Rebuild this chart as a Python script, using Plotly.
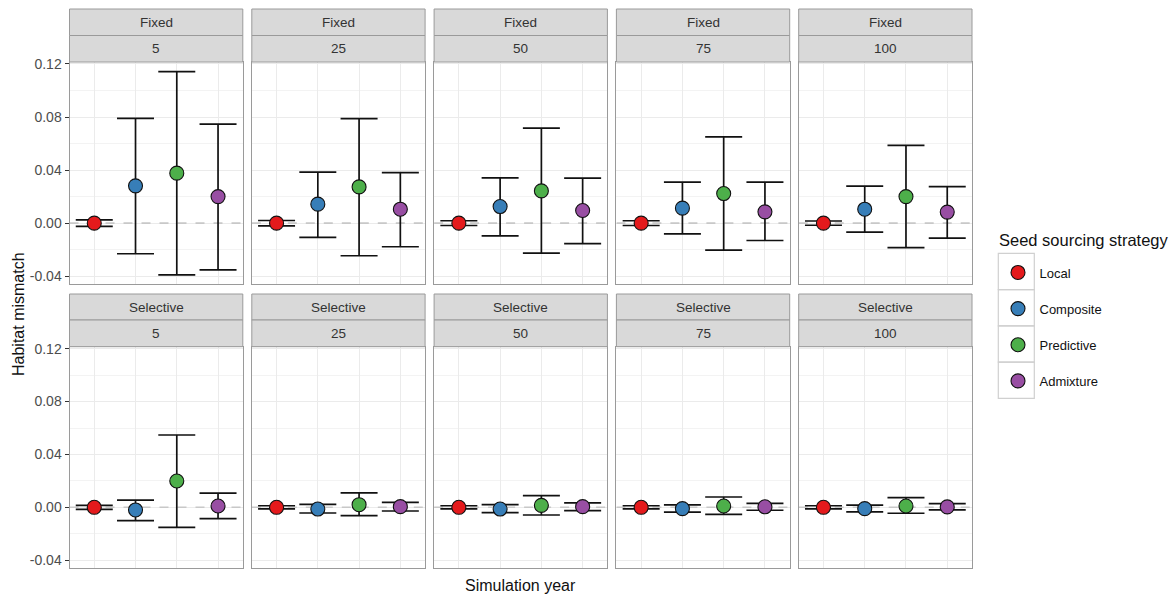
import plotly.graph_objects as go

W, H = 1176, 595

strategies = ["Local", "Composite", "Predictive", "Admixture"]
colors = ["#E41A1C", "#377EB8", "#4DAF4A", "#984EA3"]
years = ["5", "25", "50", "75", "100"]
schemes = ["Fixed", "Selective"]

# mean, upper, lower per year (rows: strategies in order above)
fixed_mean = {
    "5":   [0.0000, 0.0281, 0.0377, 0.0200],
    "25":  [0.0000, 0.0143, 0.0273, 0.0105],
    "50":  [0.0000, 0.0125, 0.0243, 0.0095],
    "75":  [0.0000, 0.0113, 0.0223, 0.0085],
    "100": [0.0000, 0.0105, 0.0200, 0.0083],
}
fixed_upper = {
    "5":   [0.0025, 0.0790, 0.1142, 0.0746],
    "25":  [0.0020, 0.0384, 0.0788, 0.0381],
    "50":  [0.0018, 0.0341, 0.0716, 0.0339],
    "75":  [0.0018, 0.0309, 0.0650, 0.0309],
    "100": [0.0016, 0.0279, 0.0587, 0.0276],
}
fixed_lower = {
    "5":   [-0.0025, -0.0231, -0.0390, -0.0352],
    "25":  [-0.0020, -0.0108, -0.0246, -0.0178],
    "50":  [-0.0018, -0.0096, -0.0226, -0.0154],
    "75":  [-0.0018, -0.0081, -0.0203, -0.0131],
    "100": [-0.0016, -0.0068, -0.0184, -0.0113],
}
selective_mean = {
    "5":   [0.0000, -0.0020, 0.0199, 0.0010],
    "25":  [0.0000, -0.0013, 0.0020, 0.0005],
    "50":  [0.0000, -0.0013, 0.0015, 0.0005],
    "75":  [0.0000, -0.0010, 0.0010, 0.0004],
    "100": [0.0000, -0.0010, 0.0010, 0.0003],
}
selective_upper = {
    "5":   [0.0015, 0.0055, 0.0547, 0.0108],
    "25":  [0.0012, 0.0023, 0.0110, 0.0038],
    "50":  [0.0012, 0.0020, 0.0088, 0.0033],
    "75":  [0.0012, 0.0018, 0.0078, 0.0030],
    "100": [0.0012, 0.0016, 0.0073, 0.0028],
}
selective_lower = {
    "5":   [-0.0015, -0.0101, -0.0151, -0.0086],
    "25":  [-0.0012, -0.0043, -0.0063, -0.0028],
    "50":  [-0.0012, -0.0040, -0.0058, -0.0025],
    "75":  [-0.0012, -0.0037, -0.0053, -0.0022],
    "100": [-0.0012, -0.0035, -0.0045, -0.0020],
}
data = {
    "Fixed": (fixed_mean, fixed_upper, fixed_lower),
    "Selective": (selective_mean, selective_upper, selective_lower),
}

y_ticks = [-0.04, 0.0, 0.04, 0.08, 0.12]
y_tick_text = ["-0.04", "0.00", "0.04", "0.08", "0.12"]
y_range = [-0.0459, 0.1215]
x_range = [0.4, 4.6]

# pixel layout helpers
col_x0 = 69.5
panel_w = 173.3
gap_x = 9.0
row_top = [62.0, 346.7]
row_bot = [284.0, 568.0]
strip1_top = [9.0, 294.0]
strip_mid = [35.5, 320.0]

def px(xp):
    return xp / W

def py(yp):
    return 1 - yp / H

FONT = "Liberation Sans, Arial, sans-serif"
fig = go.Figure()
shapes = []
annotations = []
BORDER = "#9a9a9a"
STRIP_FILL = "#d9d9d9"

for r, scheme in enumerate(schemes):
    means, ups, lows = data[scheme]
    for c, yr in enumerate(years):
        idx = r * 5 + c + 1
        xa = "x" if idx == 1 else f"x{idx}"
        ya = "y" if idx == 1 else f"y{idx}"
        xl = "xaxis" if idx == 1 else f"xaxis{idx}"
        yl = "yaxis" if idx == 1 else f"yaxis{idx}"
        x0 = col_x0 + c * (panel_w + gap_x)
        x1 = x0 + panel_w
        fig.layout[xl] = dict(
            domain=[px(x0), px(x1)], anchor=ya, range=x_range,
            tickvals=[1, 2, 3, 4], showticklabels=False, ticks="",
            showgrid=True, gridcolor="#ebebeb", gridwidth=1,
            zeroline=False, showline=True, mirror=True,
            linecolor=BORDER, linewidth=1, fixedrange=True, automargin=False,
        )
        fig.layout[yl] = dict(
            domain=[py(row_bot[r]), py(row_top[r])], anchor=xa, range=y_range,
            tickvals=y_ticks, ticktext=y_tick_text,
            showticklabels=(c == 0), ticks="outside" if c == 0 else "",
            ticklen=4, tickcolor="#333333", tickwidth=1,
            tickfont=dict(family=FONT, size=14, color="#4d4d4d"),
            showgrid=True, gridcolor="#ebebeb", gridwidth=1,
            minor=dict(tickvals=[-0.02, 0.02, 0.06, 0.10], showgrid=True,
                       gridcolor="#f3f3f3", gridwidth=0.6),
            zeroline=False, showline=True, mirror=True,
            linecolor=BORDER, linewidth=1, fixedrange=True, automargin=False,
        )
        # dashed reference line at zero (drawn first, beneath the points)
        fig.add_trace(go.Scatter(
            x=x_range, y=[0, 0], xaxis=xa, yaxis=ya, mode="lines",
            line=dict(color="#c8c8c8", width=1.6, dash="dash"),
            showlegend=False, hoverinfo="skip",
        ))
        # strips
        for (t0, t1, label) in [(strip1_top[r], strip_mid[r], scheme),
                                (strip_mid[r], row_top[r], yr)]:
            shapes.append(dict(type="rect", xref="paper", yref="paper",
                               x0=px(x0), x1=px(x1), y0=py(t1), y1=py(t0),
                               fillcolor=STRIP_FILL, line=dict(color=BORDER, width=1),
                               layer="above"))
            annotations.append(dict(text=label, xref="paper", yref="paper",
                                    x=px((x0 + x1) / 2), y=py((t0 + t1) / 2),
                                    showarrow=False, xanchor="center", yanchor="middle",
                                    font=dict(family=FONT, size=13.5, color="#333333")))
        for k, strat in enumerate(strategies):
            m = means[yr][k]
            fig.add_trace(go.Scatter(
                x=[k + 1], y=[m], xaxis=xa, yaxis=ya, mode="markers",
                name=strat, legendgroup=strat, showlegend=(idx == 1),
                marker=dict(size=14, color=colors[k], line=dict(color="#111111", width=1.1)),
                error_y=dict(type="data", symmetric=False,
                             array=[ups[yr][k] - m], arrayminus=[m - lows[yr][k]],
                             color="#111111", thickness=1.7, width=18.5),
                hoverinfo="skip",
            ))

annotations.append(dict(text="Habitat mismatch", xref="paper", yref="paper",
                        x=px(18), y=py(314), textangle=-90, showarrow=False,
                        xanchor="center", yanchor="middle",
                        font=dict(family=FONT, size=16, color="#111111")))
annotations.append(dict(text="Simulation year", xref="paper", yref="paper",
                        x=px(520), y=py(585), showarrow=False,
                        xanchor="center", yanchor="middle",
                        font=dict(family=FONT, size=16, color="#111111")))
annotations.append(dict(text="Seed sourcing strategy", xref="paper", yref="paper",
                        x=px(997), y=py(240), showarrow=False,
                        xanchor="left", yanchor="middle",
                        font=dict(family=FONT, size=16.5, color="#111111")))

# legend key boxes
for k in range(4):
    shapes.append(dict(type="rect", xref="paper", yref="paper",
                       x0=px(998.3), x1=px(1034.3),
                       y0=py(253.3 + (k + 1) * 36.25), y1=py(253.3 + k * 36.25),
                       fillcolor="rgba(0,0,0,0)", line=dict(color="#d0d0d0", width=1.2),
                       layer="above"))

fig.update_layout(
    width=W, height=H,
    margin=dict(l=0, r=0, t=0, b=0, autoexpand=False),
    paper_bgcolor="white", plot_bgcolor="white",
    shapes=shapes, annotations=annotations,
    showlegend=True,
    legend=dict(
        x=px(996.5), y=py(257.5), xanchor="left", yanchor="top",
        font=dict(family=FONT, size=13, color="#111111"),
        tracegroupgap=16.25, traceorder="grouped", bgcolor="rgba(0,0,0,0)",
        itemsizing="trace", itemwidth=33,
    ),
)

fig.write_html("out.html", config={"displayModeBar": False},
               post_script="document.body.style.margin='0';document.body.style.overflow='hidden';")
